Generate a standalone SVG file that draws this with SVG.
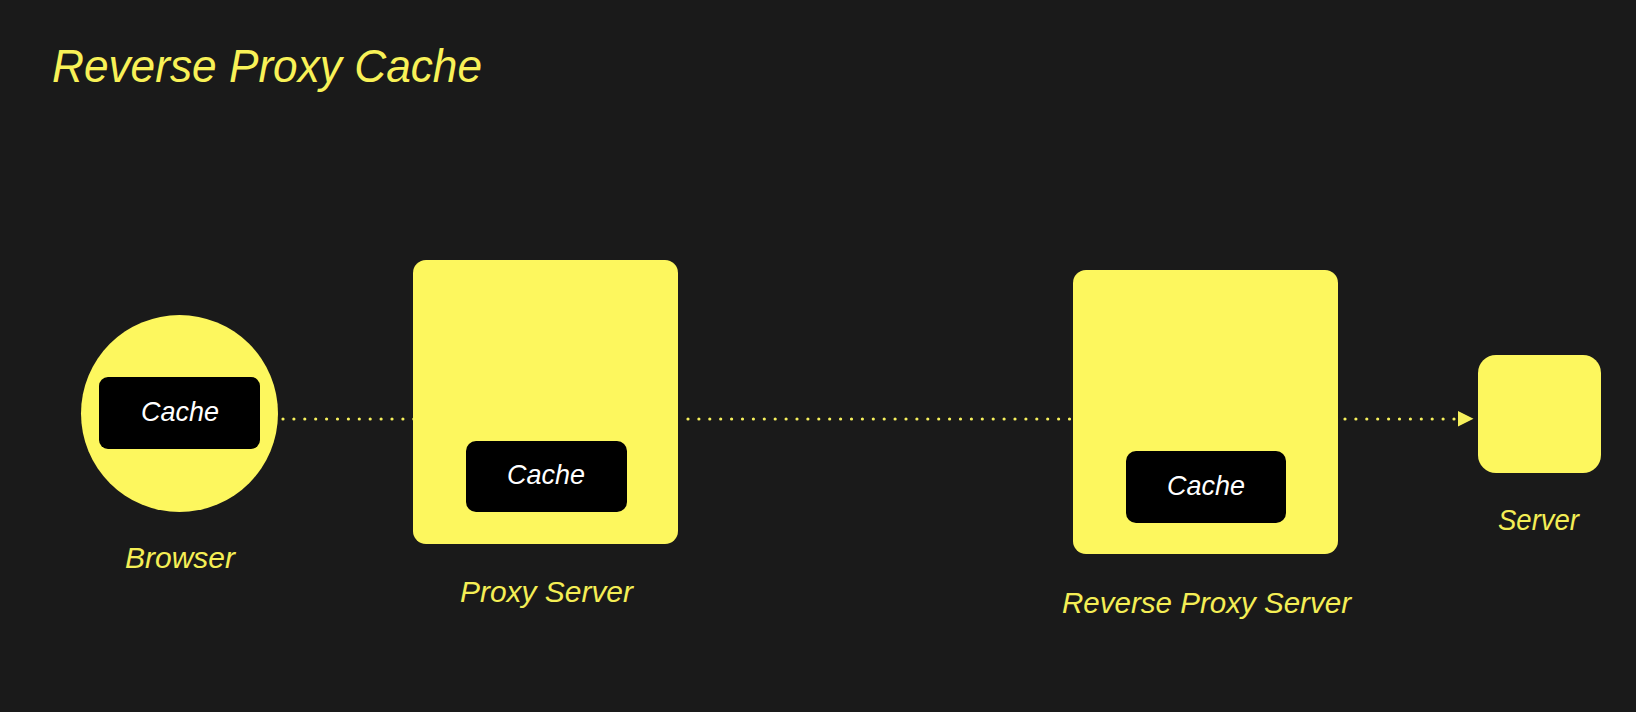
<svg xmlns="http://www.w3.org/2000/svg" width="1636" height="712" viewBox="0 0 1636 712">
<defs>
<style>
.node{fill:#fdf75e}
.cachebox{fill:#000}
.cachetxt{fill:#ffffff;font-family:"Liberation Sans",Arial,sans-serif;font-style:italic;font-size:28px;text-anchor:middle}
.label{fill:#f4ee55;font-family:"Liberation Sans",Arial,sans-serif;font-style:italic;font-size:29px}
.title{fill:#f8f157;font-family:"Liberation Sans",Arial,sans-serif;font-style:italic;font-size:46px}
.dots{stroke:#f6f05c;stroke-width:3.2;stroke-linecap:round;stroke-dasharray:0 10.9;fill:none}
</style>
</defs>
<rect width="1636" height="712" fill="#1a1a1a"/>
<text class="title" x="52" y="82" textLength="430" lengthAdjust="spacingAndGlyphs">Reverse Proxy Cache</text>

<g id="connectors">
<line class="dots" x1="283" y1="419" x2="414" y2="419"/>
<line class="dots" x1="688" y1="419" x2="1073" y2="419"/>
<line class="dots" x1="1345" y1="419" x2="1455" y2="419"/>
<path d="M1458,411 L1473.5,418.8 L1458,426.5 Z" fill="#f6f05c"/>
</g>

<g id="browser">
<circle class="node" cx="179.5" cy="413.5" r="98.5"/>
<rect class="cachebox" x="99" y="377" width="161" height="72" rx="9"/>
<text class="cachetxt" x="180" y="421" textLength="78" lengthAdjust="spacingAndGlyphs">Cache</text>
<text class="label" x="125" y="568" textLength="110" lengthAdjust="spacingAndGlyphs">Browser</text>
</g>

<g id="proxy-server">
<rect class="node" x="413" y="260" width="265" height="284" rx="13"/>
<rect class="cachebox" x="466" y="441" width="161" height="71" rx="10"/>
<text class="cachetxt" x="546" y="484" textLength="78" lengthAdjust="spacingAndGlyphs">Cache</text>
<text class="label" x="460" y="602" textLength="173" lengthAdjust="spacingAndGlyphs">Proxy Server</text>
</g>

<g id="reverse-proxy-server">
<rect class="node" x="1073" y="270" width="265" height="284" rx="13"/>
<rect class="cachebox" x="1126" y="451" width="160" height="72" rx="10"/>
<text class="cachetxt" x="1206" y="494.5" textLength="78" lengthAdjust="spacingAndGlyphs">Cache</text>
<text class="label" x="1062" y="613" textLength="289" lengthAdjust="spacingAndGlyphs">Reverse Proxy Server</text>
</g>

<g id="server">
<rect class="node" x="1478" y="355" width="123" height="118" rx="18"/>
<text class="label" x="1498" y="529.5" textLength="81" lengthAdjust="spacingAndGlyphs">Server</text>
</g>
</svg>
